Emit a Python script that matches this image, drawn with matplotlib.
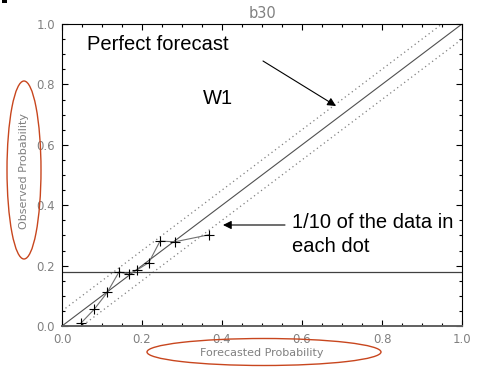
import matplotlib
matplotlib.use("Agg")
import matplotlib.pyplot as plt
from matplotlib.patches import Ellipse, Rectangle, FancyArrowPatch
from matplotlib.ticker import MultipleLocator

forecast = [0.047, 0.081, 0.113, 0.1425, 0.167, 0.188, 0.217, 0.245, 0.283, 0.367]
observed = [0.009, 0.056, 0.111, 0.179, 0.172, 0.186, 0.210, 0.281, 0.279, 0.302]
climatology = 0.179
band = 0.05
title = "b30"
xlabel = "Forecasted Probability"
ylabel = "Observed Probability"

plt.rcParams['font.family'] = ['Liberation Sans', 'DejaVu Sans']

fig = plt.figure(figsize=(4.8, 3.72), dpi=100)
ax = fig.add_axes([62/480, 46/372, 400/480, 302/372])
ax.set_xlim(0, 1)
ax.set_ylim(0, 1)

ax.plot([0, 1], [0, 1], color='#505050', lw=0.8)
ax.plot([0, 1], [band, 1 + band], color='#808080', lw=0.9, ls=(0, (1, 2.5)))
ax.plot([0, 1], [-band, 1 - band], color='#808080', lw=0.9, ls=(0, (1, 2.5)))
ax.axhline(climatology, color='#404040', lw=0.9)
ax.plot(forecast, observed, color='#707070', lw=0.8, marker='+', ms=6.5,
        mec='black', mew=0.8)

gray = '#808080'
ax.xaxis.set_major_locator(MultipleLocator(0.2))
ax.yaxis.set_major_locator(MultipleLocator(0.2))
ax.xaxis.set_minor_locator(MultipleLocator(0.05))
ax.yaxis.set_minor_locator(MultipleLocator(0.05))
ax.tick_params(which='both', direction='in', top=True, right=True, color='black',
               labelcolor=gray, labelsize=8.5, width=0.8)
ax.tick_params(which='major', length=4.5, pad=5)
ax.tick_params(which='minor', length=2.5)
ax.set_xticklabels([f"{v:.1f}" for v in ax.get_xticks()], family='DejaVu Sans')
ax.set_yticklabels([f"{v:.1f}" for v in ax.get_yticks()], family='DejaVu Sans')
for s in ax.spines.values():
    s.set_linewidth(0.8)
ax.spines['bottom'].set_color('#606060')
ax.spines['bottom'].set_linewidth(1.4)

fig.text(262/480, 1 - 14/372, title, ha='center', va='center', color=gray,
         fontsize=10.5, family='DejaVu Sans')
fig.text(24/480, 1 - 171/372, ylabel, ha='center', va='center', rotation=90,
         color=gray, fontsize=8, family='DejaVu Sans')
fig.text(262/480, 1 - 353/372, xlabel, ha='center', va='center', color=gray,
         fontsize=8, family='DejaVu Sans')

red = '#c8461e'
fig.add_artist(Ellipse((24/480, 1 - 170/372), 34/480, 178/372, transform=fig.transFigure,
                       fill=False, ec=red, lw=1.0))
fig.add_artist(Ellipse((264/480, 1 - 352/372), 234/480, 27/372, transform=fig.transFigure,
                       fill=False, ec=red, lw=1.0))
fig.add_artist(Rectangle((2/480, 1 - 3/372), 5/480, 3/372, transform=fig.transFigure,
                         color='black', lw=0))

def fx(px):
    return px / 480

def fy(py):
    return 1 - py / 372

fs = 14.5
fig.text(fx(87), fy(44), "Perfect forecast", ha='left', va='center', fontsize=fs)
fig.text(fx(203), fy(99), "W1", ha='left', va='center', fontsize=fs)
fig.text(fx(292), fy(222), "1/10 of the data in", ha='left', va='center', fontsize=fs)
fig.text(fx(292), fy(246), "each dot", ha='left', va='center', fontsize=fs)

fig.add_artist(FancyArrowPatch(
    (fx(263), fy(61)), (fx(336), fy(106)), transform=fig.transFigure,
    arrowstyle='-|>,head_length=5,head_width=2.5', color='black', lw=0.8,
    shrinkA=0, shrinkB=0))
fig.add_artist(FancyArrowPatch(
    (fx(285), fy(225)), (fx(223), fy(225)), transform=fig.transFigure,
    arrowstyle='-|>,head_length=5,head_width=2.5', color='black', lw=0.8,
    shrinkA=0, shrinkB=0))

fig.savefig("out.png", dpi=100)
